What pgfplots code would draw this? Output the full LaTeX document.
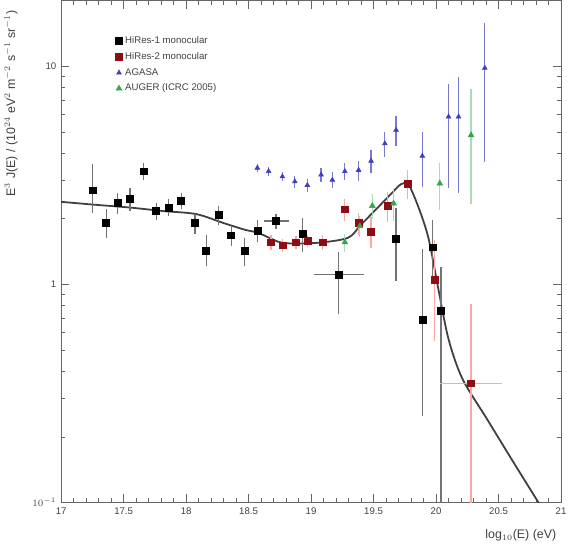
\documentclass[border=0pt]{standalone}
\usepackage{fontspec}
\setmainfont{Liberation Sans}
\usepackage{pgfplots}
\usepackage{pgfplotstable}
\pgfplotsset{compat=1.18}
\definecolor{hrtwo}{rgb}{0.55,0.05,0.08}
\definecolor{agasa}{rgb}{0.25,0.25,0.75}
\definecolor{auger}{rgb}{0.2,0.65,0.3}

\pgfplotstableread{
x      y     ex    eyp   eym
17.25  2.70  0     0.85  0.58
17.36  1.92  0     0.30  0.28
17.45  2.36  0     0.25  0.25
17.55  2.47  0     0.30  0.30
17.66  3.30  0     0.30  0.30
17.76  2.17  0     0.20  0.20
17.86  2.25  0     0.20  0.20
17.96  2.42  0     0.20  0.20
18.07  1.91  0     0.20  0.20
18.16  1.43  0     0.26  0.21
18.26  2.08  0     0.20  0.20
18.36  1.68  0     0.18  0.18
18.47  1.42  0     0.22  0.20
18.57  1.76  0     0.22  0.20
18.72  1.95  0.10  0.15  0.15
18.93  1.71  0     0.30  0.30
19.22  1.11  0.20  0.30  0.38
19.68  1.62  0     0.62  0.58
19.89  0.69  0     0.76  0.44
19.97  1.48  0     0.50  0.45
20.04  0.755 0     0.45  0.665
}\hiresone

\pgfplotstableread{
x      y     ex    eyp   eym
18.68  1.56  0     0.12  0.12
18.77  1.51  0     0.10  0.10
18.88  1.56  0     0.10  0.10
18.97  1.58  0     0.10  0.10
19.09  1.56  0     0.12  0.12
19.27  2.21  0     0.25  0.25
19.38  1.91  0     0.22  0.22
19.48  1.75  0     0.28  0.28
19.61  2.29  0     0.35  0.35
19.77  2.90  0     0.45  0.45
19.99  1.05  0     0.55  0.50
20.28  0.352 0.25  0.46  0.262
}\hirestwo

\pgfplotstableread{
x      y     eyp   eym
18.57  3.42  0.15  0.15
18.66  3.30  0.15  0.15
18.77  3.12  0.15  0.15
18.87  2.96  0.18  0.18
18.97  2.85  0.20  0.20
19.08  3.18  0.22  0.22
19.17  3.01  0.25  0.25
19.27  3.30  0.30  0.30
19.38  3.34  0.35  0.35
19.48  3.68  0.45  0.45
19.59  4.42  0.60  0.60
19.68  5.10  0.80  0.80
19.89  3.88  1.14  1.09
20.10  5.87  2.40  3.10
20.18  5.87  3.10  3.26
20.39  9.82  6.00  6.20
}\agasa

\pgfplotstableread{
x      y     eyp   eym
19.27  1.56  0.15  0.15
19.39  1.85  0.20  0.20
19.49  2.29  0.30  0.30
19.66  2.35  0.40  0.40
20.03  2.90  0.70  0.70
20.28  4.83  3.00  2.50
}\auger

\begin{document}
\begin{tikzpicture}
\begin{axis}[
  scale only axis,
  width=363pt, height=364.5pt,
  xmin=17, xmax=21,
  ymode=log, ymin=0.1, ymax=20,
  xtick={17,17.5,...,21},
  xticklabels={17,17.5,18,18.5,19,19.5,20,20.5,21},
  minor x tick num=4,
  ytick={0.1,1,10},
  yticklabels={$10^{-1}$,1,10},
  tick pos=both,
  tick align=inside,
  major tick length=6pt,
  minor tick length=3pt,
  axis line style={black!60, line width=0.8pt},
  every tick/.style={black!60},
  tick label style={font=\scriptsize, text=black!75},
  /pgf/number format/assume math mode=true,
  xlabel={log$_{10}$(E) (eV)},
  xlabel style={at={(axis description cs:1,-0.045)}, anchor=north east, font=\small, text=black!75},
  ylabel={E$^{3}$ J(E) / (10$^{24}$ eV$^{2}$ m$^{-2}$ s$^{-1}$ sr$^{-1}$)},
  ylabel style={at={(axis description cs:-0.1,0.99)}, anchor=east, font=\small, text=black!75},
  legend style={at={(axis description cs:0.1,0.94)}, anchor=north west, draw=none, fill=none,
                font=\scriptsize, text=black!75, row sep=1pt},
  legend cell align=left,
  clip=true,
]
% fit curve
\addplot[black!75, line width=1.3pt, smooth, tension=0.5, forget plot] coordinates {
(17.00,2.39) (17.26,2.32) (17.55,2.25) (17.81,2.17) (18.08,2.10) (18.30,1.91)
(18.47,1.78) (18.58,1.72) (18.75,1.56) (18.90,1.54) (19.10,1.56) (19.30,1.64)
(19.40,1.88) (19.55,2.30) (19.64,2.60) (19.72,2.88) (19.78,2.86) (19.86,2.25)
(19.94,1.62) (20.02,0.94) (20.10,0.56) (20.21,0.37) (20.41,0.24)
(20.61,0.156) (20.81,0.102) (20.86,0.092)
};
\addplot[only marks, mark=square*, mark size=2.5pt, black,
  error bars/.cd, y dir=both, y explicit, x dir=both, x explicit,
  error bar style={black!55, line width=0.9pt}, error mark=none]
  table[x=x, y=y, x error=ex, y error plus=eyp, y error minus=eym]{\hiresone};
\addlegendentry{HiRes-1 monocular}
\addplot[only marks, mark=square*, mark size=2.5pt, hrtwo,
  error bars/.cd, y dir=both, y explicit, x dir=both, x explicit,
  error bar style={red!35, line width=0.9pt}, error mark=none]
  table[x=x, y=y, x error=ex, y error plus=eyp, y error minus=eym]{\hirestwo};
\addlegendentry{HiRes-2 monocular}
\addplot[only marks, mark=triangle*, mark size=2pt, agasa,
  error bars/.cd, y dir=both, y explicit,
  error bar style={agasa!70, line width=0.9pt}, error mark=none]
  table[x=x, y=y, y error plus=eyp, y error minus=eym]{\agasa};
\addlegendentry{AGASA}
\addplot[only marks, mark=triangle*, mark size=2.4pt, auger,
  error bars/.cd, y dir=both, y explicit,
  error bar style={auger!40, line width=0.9pt}, error mark=none]
  table[x=x, y=y, y error plus=eyp, y error minus=eym]{\auger};
\addlegendentry{AUGER (ICRC 2005)}
\end{axis}
\end{tikzpicture}
\end{document}
